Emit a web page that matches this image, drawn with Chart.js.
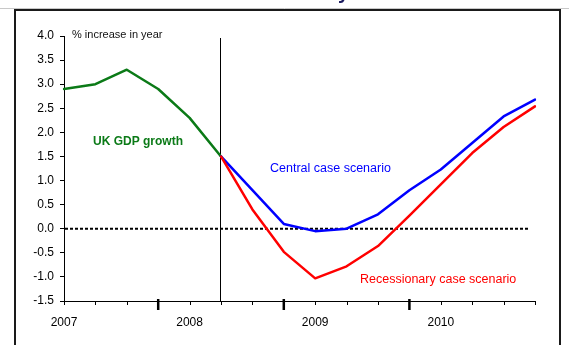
<!DOCTYPE html>
<html>
<head>
<meta charset="utf-8">
<script src="https://cdn.jsdelivr.net/npm/chart.js@4"></script>
<style>
html,body{margin:0;padding:0;background:#fff;}
#wrap{width:569px;height:345px;position:relative;}
</style>
</head>
<body>
<div id="wrap"><canvas id="c" width="569" height="345"></canvas></div>
<script>
// ---- data ----
const quarterLabels = ['2007','','','','2008','','','','2009','','','','2010','','',''];
const gdpGrowth     = [2.9, 3.0, 3.3, 2.9, 2.3, 1.5, null, null, null, null, null, null, null, null, null, null];
const centralCase   = [null, null, null, null, null, 1.5, 0.8, 0.1, -0.05, 0.0, 0.3, 0.8, 1.23, 1.78, 2.33, 2.68];
const recessionCase = [null, null, null, null, null, 1.5, 0.4, -0.48, -1.03, -0.78, -0.36, 0.27, 0.92, 1.57, 2.11, 2.54];
const yMin = -1.5, yMax = 4.0, yStep = 0.5;
const majorTickIndex = [3, 7, 11];
const forecastStartIndex = 5;
const baselineValue = 0;

const FONT = '"Liberation Sans", Arial, sans-serif';

const decor = {
  id: 'decor',
  beforeDraw(chart) {
    const ctx = chart.ctx;
    ctx.save();
    // outer frame
    ctx.strokeStyle = '#c8c8c8';
    ctx.lineWidth = 1;
    ctx.beginPath(); ctx.moveTo(0, 8.5); ctx.lineTo(569, 8.5); ctx.stroke();
    ctx.strokeStyle = '#1a1a1a';
    ctx.lineWidth = 2;
    ctx.strokeRect(15, 10, 545, 360);
    // clipped title fragment
    ctx.fillStyle = '#1a1a5e';
    ctx.font = 'bold 20px ' + FONT;
    ctx.textBaseline = 'alphabetic';
    ctx.fillText('y', 338, -1);
    ctx.restore();
  },
  beforeDatasetsDraw(chart) {
    const {ctx, chartArea, scales} = chart;
    const x = scales.x, y = scales.y;
    ctx.save();
    // forecast divider
    const vx = Math.round(x.getPixelForValue(forecastStartIndex)) - 0.5;
    ctx.strokeStyle = '#000';
    ctx.lineWidth = 1;
    ctx.beginPath();
    ctx.moveTo(vx, chartArea.top + 2);
    ctx.lineTo(vx, chartArea.bottom);
    ctx.stroke();
    // zero baseline
    const zy = y.getPixelForValue(baselineValue);
    ctx.setLineDash([3, 2]);
    ctx.lineWidth = 2;
    ctx.beginPath();
    ctx.moveTo(chartArea.left + 1, zy);
    ctx.lineTo(chartArea.right - 5, zy);
    ctx.stroke();
    ctx.restore();
  },
  afterDraw(chart) {
    const {ctx, chartArea, scales} = chart;
    const x = scales.x;
    ctx.save();
    // x-axis tick marks
    ctx.strokeStyle = '#000';
    for (let i = 0; i < quarterLabels.length; i++) {
      const px = x.getPixelForValue(i);
      const major = majorTickIndex.includes(i);
      ctx.lineWidth = major ? 2.5 : 1;
      ctx.beginPath();
      if (major) { ctx.moveTo(px, chartArea.bottom - 2); ctx.lineTo(px, chartArea.bottom + 9); }
      else { const p = Math.round(px) + 0.5; ctx.moveTo(p, chartArea.bottom); ctx.lineTo(p, chartArea.bottom + 4); }
      ctx.stroke();
    }
    // annotations
    ctx.textBaseline = 'alphabetic';
    ctx.textAlign = 'left';
    ctx.fillStyle = '#111';
    ctx.font = '11px ' + FONT;
    ctx.fillText('% increase in year', 72, 38);
    ctx.fillStyle = '#0b7a17';
    ctx.font = 'bold 12px ' + FONT;
    ctx.fillText('UK GDP growth', 93, 145);
    ctx.fillStyle = '#0000ff';
    ctx.font = '12.5px ' + FONT;
    ctx.fillText('Central case scenario', 270, 172);
    ctx.fillStyle = '#ff0000';
    ctx.fillText('Recessionary case scenario', 360, 283);
    ctx.restore();
  }
};

new Chart(document.getElementById('c'), {
  type: 'line',
  data: {
    labels: quarterLabels,
    datasets: [
      { label: 'Recessionary case scenario', data: recessionCase, borderColor: '#ff0000', borderWidth: 2.5 },
      { label: 'Central case scenario', data: centralCase, borderColor: '#0000ff', borderWidth: 2.5 },
      { label: 'UK GDP growth', data: gdpGrowth, borderColor: '#0b7a17', borderWidth: 2.5 }
    ]
  },
  options: {
    responsive: false,
    animation: false,
    devicePixelRatio: 1,
    elements: { point: { radius: 0 }, line: { tension: 0, borderCapStyle: 'round', borderJoinStyle: 'round' } },
    layout: { padding: { top: 36, right: 34, left: 0, bottom: 0 } },
    plugins: { legend: { display: false }, tooltip: { enabled: false }, title: { display: false } },
    scales: {
      x: {
        type: 'category',
        offset: false,
        afterFit(s) { s.height = 44; },
        grid: { display: true, drawOnChartArea: false, drawTicks: false },
        border: { display: true, color: '#000', width: 1 },
        ticks: { autoSkip: false, maxRotation: 0, color: '#000', padding: 14, font: { family: FONT, size: 12 } }
      },
      y: {
        min: yMin, max: yMax,
        afterFit(s) { s.width = 64; },
        grid: { display: true, drawOnChartArea: false, drawTicks: true, tickLength: 4, tickColor: '#000' },
        border: { display: true, color: '#000', width: 1 },
        ticks: { stepSize: yStep, color: '#000', padding: 6, font: { family: FONT, size: 12 },
                 callback: v => Number(v).toFixed(1) }
      }
    }
  },
  plugins: [decor]
});
</script>
</body>
</html>
